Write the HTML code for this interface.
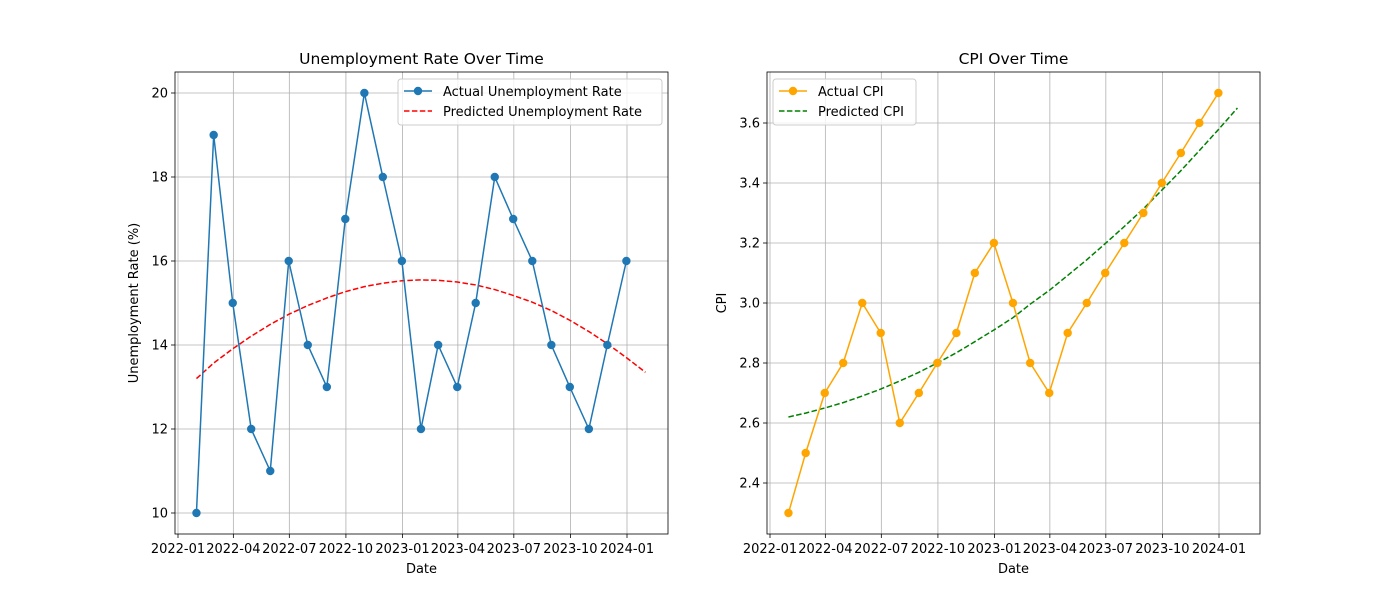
<!DOCTYPE html>
<html><head><meta charset="utf-8"><style>
body{margin:0;background:#fff;}
svg{display:block;font-family:"DejaVu Sans","Liberation Sans",sans-serif;}
</style></head><body>
<svg id="chart" width="1400" height="600"></svg>
<script>
const dates = ["2022-01","2022-02","2022-03","2022-04","2022-05","2022-06","2022-07","2022-08","2022-09","2022-10","2022-11","2022-12","2023-01","2023-02","2023-03","2023-04","2023-05","2023-06","2023-07","2023-08","2023-09","2023-10","2023-11","2023-12"];
const unemployment = [10,19,15,12,11,16,14,13,17,20,18,16,12,14,13,15,18,17,16,14,13,12,14,16];
const predUnemployment = [13.20,13.57,13.91,14.21,14.49,14.73,14.94,15.12,15.27,15.39,15.47,15.53,15.55,15.54,15.50,15.43,15.32,15.18,15.02,14.82,14.59,14.32,14.03,13.70,13.35];
const cpi = [2.3,2.5,2.7,2.8,3.0,2.9,2.6,2.7,2.8,2.9,3.1,3.2,3.0,2.8,2.7,2.9,3.0,3.1,3.2,3.3,3.4,3.5,3.6,3.7];
const predCpi = [2.620,2.633,2.650,2.668,2.690,2.713,2.740,2.769,2.800,2.834,2.871,2.910,2.951,2.996,3.042,3.092,3.144,3.198,3.255,3.314,3.376,3.441,3.508,3.578,3.650];
const xTicks = ["2022-01","2022-04","2022-07","2022-10","2023-01","2023-04","2023-07","2023-10","2024-01"];
const yTicksL = [10,12,14,16,18,20];
const yTicksR = [2.4,2.6,2.8,3.0,3.2,3.4,3.6];

const NS="http://www.w3.org/2000/svg";
const svg=document.getElementById('chart');
function mk(tag,attrs,parent,text){const e=document.createElementNS(NS,tag);for(const k in attrs)e.setAttribute(k,attrs[k]);if(text!==undefined)e.textContent=text;(parent||svg).appendChild(e);return e;}
function dayNum(s){const [y,m]=s.split('-').map(Number);return Date.UTC(y,m-1,1)/864e5;}
function monthEnd(s){const [y,m]=s.split('-').map(Number);return Date.UTC(y,m,0)/864e5;}
const d0=dayNum("2022-01"), d1=dayNum("2024-01");
const predDates=dates.concat(["2024-01"]);

function panel(o){
  const {L,R,T,B,ymin,ymax,yt,fmt,actual,pred,ac,pc,title,ylab,names,legW,key}=o;
  const g=mk('g',{},svg);
  
  const x0=L+3, pxd=449/(d1-d0);
  const X=d=>x0+(d-d0)*pxd;
  const Y=v=>B-(v-ymin)/(ymax-ymin)*(B-T);
  const grid=mk('g',{},g);
  xTicks.forEach(t=>{const x=X(dayNum(t));
    mk('line',{x1:x,x2:x,y1:T,y2:B,stroke:'#b0b0b0','stroke-width':0.8},grid);
    mk('line',{x1:x,x2:x,y1:B,y2:B+4,stroke:'#000','stroke-width':0.8},g);
    const tx=mk('text',{x:x,y:B+19,'text-anchor':'middle','font-size':13},g,t);
    });
  yt.forEach(v=>{const y=Y(v);
    mk('line',{x1:L,x2:R,y1:y,y2:y,stroke:'#b0b0b0','stroke-width':0.8},grid);
    mk('line',{x1:L-4,x2:L,y1:y,y2:y,stroke:'#000','stroke-width':0.8},g);
    const tx=mk('text',{x:L-7,y:y+4.5,'text-anchor':'end','font-size':13},g,fmt(v));
    });
  const pp=pred.map((v,i)=>X(monthEnd(predDates[i]))+','+Y(v)).join(' ');
  const pl=mk('polyline',{points:pp,fill:'none',stroke:pc,'stroke-width':1.5,'stroke-dasharray':'5.5,2.4'},g);
  
  const ap=actual.map((v,i)=>X(monthEnd(dates[i]))+','+Y(v)).join(' ');
  const al=mk('polyline',{points:ap,fill:'none',stroke:ac,'stroke-width':1.5},g);
  
  actual.forEach((v,i)=>{const c=mk('circle',{cx:X(monthEnd(dates[i])),cy:Y(v),r:4.2,fill:ac},g);
    });
  mk('rect',{x:L,y:T,width:R-L,height:B-T,fill:'none',stroke:'#000','stroke-width':0.8},g);
  const ti=mk('text',{x:(L+R)/2,y:T-8,'text-anchor':'middle','font-size':15.5},g,title);
  
  const xl=mk('text',{x:(L+R)/2,y:B+39,'text-anchor':'middle','font-size':13},g,'Date');
  
  const yx=o.ylx, yy=(T+B)/2;
  const yl=mk('text',{x:yx,y:yy,'text-anchor':'middle','font-size':13,transform:`rotate(-90 ${yx} ${yy})`},g,ylab);
  
  const lg=mk('g',{},g);
  const lx=o.legX, ly=T+7;
  mk('rect',{x:lx,y:ly,width:legW,height:46,rx:3,fill:'#fff','fill-opacity':0.8,stroke:'#ccc'},lg);
  mk('line',{x1:lx+6,x2:lx+34,y1:ly+12,y2:ly+12,stroke:ac,'stroke-width':1.5},lg);
  mk('circle',{cx:lx+20,cy:ly+12,r:4.2,fill:ac},lg);
  mk('text',{x:lx+45,y:ly+17,'font-size':13},lg,names[0]);
  mk('line',{x1:lx+6,x2:lx+34,y1:ly+32,y2:ly+32,stroke:pc,'stroke-width':1.5,'stroke-dasharray':'5.5,2.4'},lg);
  mk('text',{x:lx+45,y:ly+37,'font-size':13},lg,names[1]);
}
panel({key:'unemployment',L:175,R:668,T:72,B:534,ymin:9.5,ymax:20.5,yt:yTicksL,fmt:v=>String(v),
  actual:unemployment,pred:predUnemployment,ac:'#1f77b4',pc:'#ff0000',title:'Unemployment Rate Over Time',
  ylab:'Unemployment Rate (%)',ylx:138,names:['Actual Unemployment Rate','Predicted Unemployment Rate'],legX:398,legW:264});
panel({key:'cpi',L:767,R:1260,T:72,B:534,ymin:2.23,ymax:3.77,yt:yTicksR,fmt:v=>v.toFixed(1),
  actual:cpi,pred:predCpi,ac:'#ffa500',pc:'#008000',title:'CPI Over Time',
  ylab:'CPI',ylx:726,names:['Actual CPI','Predicted CPI'],legX:773,legW:143});
</script>
</body></html>
